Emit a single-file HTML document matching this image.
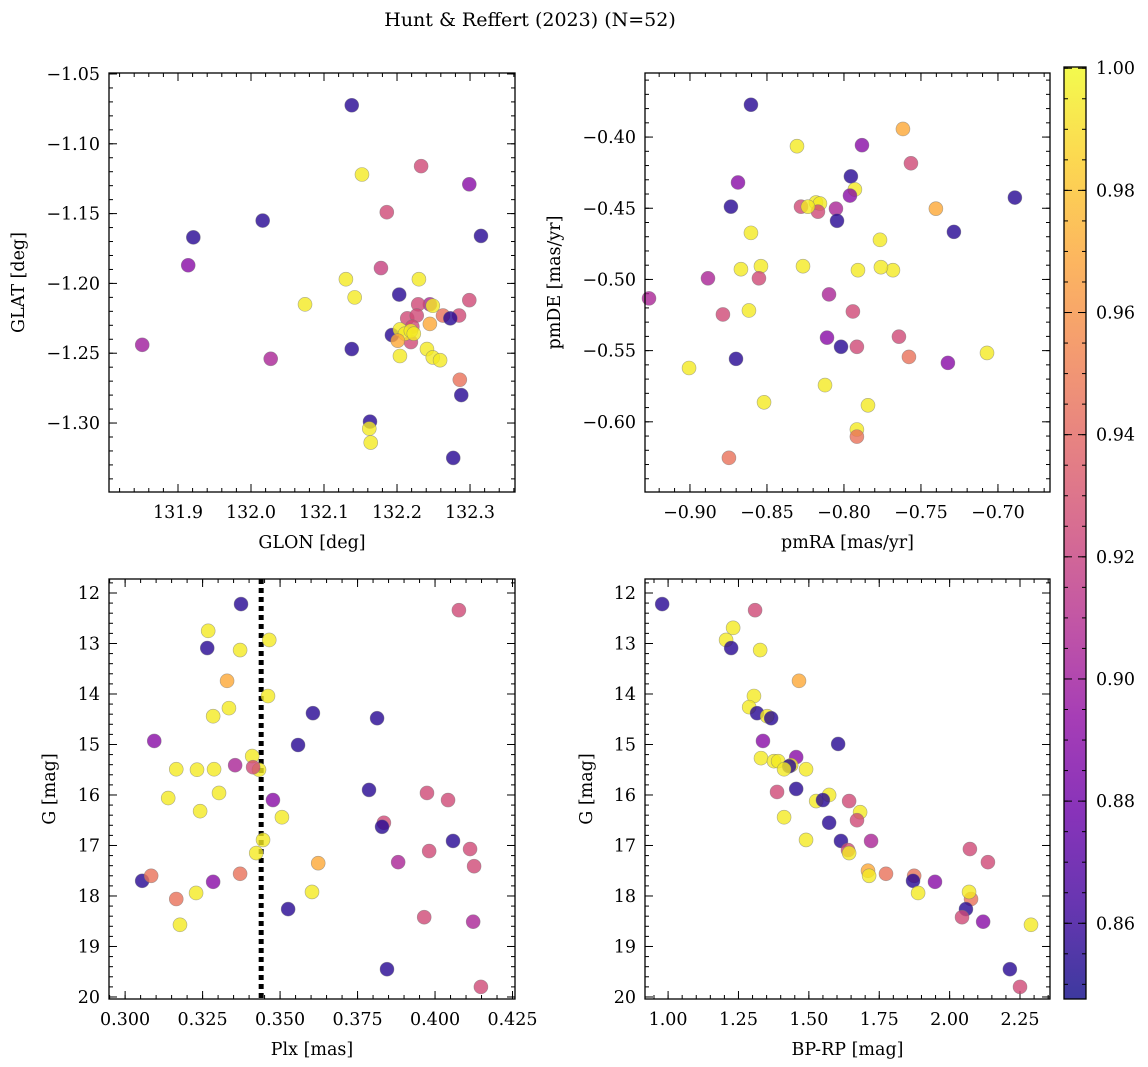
<!DOCTYPE html>
<html><head><meta charset="utf-8">
<style>
html,body{margin:0;padding:0;background:#fff;}
svg{display:block;font-family:"DejaVu Serif","Liberation Serif",serif;}
</style></head>
<body>
<svg id="fig" width="1148" height="1067" viewBox="0 0 1148 1067" xmlns="http://www.w3.org/2000/svg">
<defs>
<linearGradient id="plasma" x1="0" y1="1" x2="0" y2="0">
<stop offset="0" stop-color="#0d0887" stop-opacity="0.8"/><stop offset="0.1" stop-color="#41049d" stop-opacity="0.8"/>
<stop offset="0.2" stop-color="#6a00a8" stop-opacity="0.8"/><stop offset="0.3" stop-color="#8f0da4" stop-opacity="0.8"/>
<stop offset="0.4" stop-color="#b12a90" stop-opacity="0.8"/><stop offset="0.5" stop-color="#cc4778" stop-opacity="0.8"/>
<stop offset="0.6" stop-color="#e16462" stop-opacity="0.8"/><stop offset="0.7" stop-color="#f2844b" stop-opacity="0.8"/>
<stop offset="0.8" stop-color="#fca636" stop-opacity="0.8"/><stop offset="0.9" stop-color="#fcce25" stop-opacity="0.8"/>
<stop offset="1" stop-color="#f0f921" stop-opacity="0.8"/>
</linearGradient>
</defs>
<text x="530" y="26" font-size="19" text-anchor="middle">Hunt &amp; Reffert (2023) (N=52)</text>
</svg>
<script>
const p1x=[132.138,131.921,131.914,131.851,132.016,132.027,132.074,132.152,132.233,132.299,132.315,132.186,132.178,132.130,132.142,132.138,132.203,132.230,132.245,132.299,132.193,132.214,132.229,132.227,132.221,132.219,132.286,132.288,132.277,132.163,132.162,132.164,132.241,132.249,132.259,132.204,132.285,132.263,132.273,132.245,132.204,132.211,132.219,132.223,132.201,132.249];
const p1y=[-1.0724,-1.167,-1.187,-1.244,-1.155,-1.254,-1.215,-1.122,-1.116,-1.129,-1.166,-1.149,-1.189,-1.197,-1.210,-1.247,-1.208,-1.197,-1.215,-1.212,-1.237,-1.225,-1.215,-1.223,-1.231,-1.242,-1.269,-1.280,-1.325,-1.299,-1.304,-1.314,-1.247,-1.253,-1.255,-1.252,-1.223,-1.223,-1.225,-1.229,-1.233,-1.236,-1.234,-1.236,-1.241,-1.216];
const p1c=[0.855,0.855,0.89,0.9,0.855,0.905,0.995,0.995,0.925,0.89,0.855,0.925,0.92,0.995,0.995,0.855,0.855,0.995,0.905,0.925,0.855,0.925,0.925,0.925,0.925,0.925,0.945,0.855,0.855,0.855,0.995,0.995,0.995,0.995,0.995,0.995,0.925,0.945,0.855,0.97,0.995,0.995,0.995,0.995,0.97,0.995];

const p2x=[-0.8604,-0.8305,-0.7883,-0.7617,-0.7565,-0.7955,-0.7929,-0.7961,-0.6890,-0.8688,-0.8734,-0.8279,-0.8182,-0.8156,-0.8169,-0.8234,-0.8052,-0.8045,-0.7403,-0.7286,-0.8604,-0.7766,-0.8669,-0.8539,-0.8266,-0.7909,-0.7682,-0.7760,-0.9266,-0.8883,-0.8552,-0.8097,-0.8786,-0.8617,-0.7942,-0.7643,-0.7578,-0.7071,-0.7325,-0.8701,-0.8110,-0.8019,-0.7916,-0.9006,-0.8123,-0.8519,-0.7844,-0.7916,-0.7916,-0.8747];
const p2y=[-0.3773,-0.4064,-0.4057,-0.3943,-0.4184,-0.4276,-0.4368,-0.4411,-0.4425,-0.4319,-0.4489,-0.4489,-0.4460,-0.4467,-0.4524,-0.4489,-0.4503,-0.4588,-0.4503,-0.4666,-0.4673,-0.4722,-0.4928,-0.4907,-0.4907,-0.4935,-0.4935,-0.4914,-0.5133,-0.4992,-0.4992,-0.5105,-0.5246,-0.5218,-0.5225,-0.5402,-0.5544,-0.5516,-0.5586,-0.5558,-0.5409,-0.5473,-0.5473,-0.5622,-0.5742,-0.5863,-0.5884,-0.6054,-0.6104,-0.6253];
const p2c=[0.855,0.995,0.89,0.97,0.925,0.855,0.995,0.89,0.855,0.89,0.855,0.925,0.995,0.995,0.925,0.995,0.905,0.855,0.97,0.855,0.995,0.995,0.995,0.995,0.995,0.995,0.995,0.995,0.905,0.905,0.925,0.905,0.925,0.995,0.925,0.925,0.945,0.995,0.89,0.855,0.89,0.855,0.925,0.995,0.995,0.995,0.995,0.995,0.945,0.945];

const p3x=[0.3374,0.4077,0.3268,0.3465,0.3265,0.3371,0.3329,0.3461,0.3335,0.3284,0.3606,0.3813,0.3558,0.3094,0.3165,0.3232,0.3287,0.3355,0.3410,0.3432,0.3413,0.3477,0.3787,0.3974,0.4042,0.3303,0.3139,0.3242,0.3506,0.3835,0.3829,0.4058,0.3445,0.3423,0.3981,0.4113,0.3623,0.4126,0.3881,0.3055,0.3084,0.3371,0.3165,0.3229,0.3284,0.3603,0.3526,0.3177,0.4123,0.3965,0.3845,0.4148];
const p3y=[12.22,12.34,12.75,12.93,13.09,13.13,13.74,14.04,14.28,14.44,14.38,14.48,15.01,14.93,15.49,15.50,15.49,15.41,15.23,15.50,15.45,16.10,15.90,15.96,16.10,15.96,16.06,16.32,16.44,16.55,16.63,16.91,16.89,17.15,17.11,17.07,17.35,17.41,17.33,17.70,17.60,17.56,18.06,17.94,17.72,17.92,18.26,18.57,18.51,18.42,19.45,19.80];
const p3c=[0.855,0.925,0.995,0.995,0.855,0.995,0.97,0.995,0.995,0.995,0.855,0.855,0.855,0.89,0.995,0.995,0.995,0.905,0.995,0.995,0.925,0.89,0.855,0.925,0.925,0.995,0.995,0.995,0.995,0.925,0.855,0.855,0.995,0.995,0.925,0.925,0.97,0.925,0.905,0.855,0.945,0.945,0.945,0.995,0.89,0.995,0.855,0.995,0.905,0.925,0.855,0.925];

const p4x=[0.979,1.231,1.309,1.206,1.224,1.327,1.465,1.305,1.288,1.316,1.352,1.366,1.604,1.337,1.455,1.330,1.376,1.391,1.437,1.430,1.490,1.412,1.387,1.455,1.572,1.526,1.550,1.643,1.682,1.412,1.490,1.671,1.572,1.614,1.721,1.639,1.643,1.710,1.714,1.774,1.874,1.870,2.072,2.136,1.948,2.076,1.888,2.069,2.058,2.044,2.119,2.289,2.214,2.250];
const p4y=[12.22,12.69,12.34,12.93,13.09,13.13,13.74,14.04,14.26,14.38,14.44,14.48,14.99,14.93,15.25,15.27,15.33,15.33,15.41,15.43,15.49,15.49,15.94,15.88,16.00,16.12,16.10,16.12,16.34,16.44,16.89,16.50,16.55,16.91,16.91,17.09,17.15,17.50,17.60,17.56,17.60,17.70,17.07,17.33,17.72,18.06,17.94,17.92,18.26,18.42,18.51,18.57,19.45,19.80];
const p4c=[0.855,0.995,0.925,0.995,0.855,0.995,0.97,0.995,0.995,0.855,0.995,0.855,0.855,0.89,0.89,0.995,0.995,0.995,0.995,0.855,0.995,0.995,0.925,0.855,0.995,0.995,0.855,0.925,0.995,0.995,0.995,0.925,0.855,0.855,0.905,0.925,0.995,0.97,0.995,0.945,0.945,0.855,0.925,0.925,0.89,0.945,0.995,0.995,0.855,0.925,0.89,0.995,0.855,0.925];

const plxLine=[0.3439];
const cbTicks=[0.86,0.88,0.90,0.92,0.94,0.96,0.98,1.00];
const CMIN=0.8476, CMAX=1.0002;

const NS="http://www.w3.org/2000/svg";
const svg=document.getElementById('fig');
const FS=17.5;
function mk(tag,attrs,parent){const e=document.createElementNS(NS,tag);for(const k in attrs)e.setAttribute(k,attrs[k]);(parent||svg).appendChild(e);return e;}
const stops=[[13,8,135],[65,4,157],[106,0,168],[143,13,164],[177,42,144],[204,71,120],[225,100,98],[242,132,75],[252,166,54],[252,206,37],[240,249,33]];
function plasma(v){let t=(v-CMIN)/(CMAX-CMIN);t=Math.max(0,Math.min(1,t))*10;const i=Math.min(9,Math.floor(t)),f=t-i;const a=stops[i],b=stops[i+1];return 'rgb('+a.map((c,j)=>Math.round(c+(b[j]-c)*f)).join(',')+')';}
function fmt(v,d){const s=Math.abs(v).toFixed(d);return (v<-1e-9?'\u2212':'')+s;}

function panel(o){
  const g=mk('g',{});
  
  
  const L=o.L,R=o.R,T=o.T,B=o.B;
  const sx=v=>L+(v-o.x0)/(o.x1-o.x0)*(R-L);
  const sy=o.inv?(v=>T+(v-o.y0)/(o.y1-o.y0)*(B-T)):(v=>B-(v-o.y0)/(o.y1-o.y0)*(B-T));
  const ticks=(a,b,step)=>{const r=[];for(let k=Math.ceil(a/step-1e-6);k*step<=b+1e-9;k++)r.push(k*step);return r;};
  const tg=mk('g',{stroke:'#000','stroke-width':1},g);
  
  
  const xa=Math.min(o.x0,o.x1),xb=Math.max(o.x0,o.x1),ya=Math.min(o.y0,o.y1),yb=Math.max(o.y0,o.y1);
  ticks(xa,xb,o.xmin).forEach(v=>{const x=sx(v);mk('line',{x1:x,x2:x,y1:B,y2:B-4},tg);mk('line',{x1:x,x2:x,y1:T,y2:T+4},tg);});
  ticks(ya,yb,o.ymin).forEach(v=>{const y=sy(v);mk('line',{x1:L,x2:L+4,y1:y,y2:y},tg);mk('line',{x1:R,x2:R-4,y1:y,y2:y},tg);});
  ticks(xa,xb,o.xmaj).forEach(v=>{const x=sx(v);mk('line',{x1:x,x2:x,y1:B,y2:B-8},tg);mk('line',{x1:x,x2:x,y1:T,y2:T+8},tg);
    const t=mk('text',{x:x,y:B+26,'font-size':FS,'text-anchor':'middle',stroke:'none',fill:'#000'},g);t.textContent=fmt(v,o.xd);
    
    });
  ticks(ya,yb,o.ymaj).forEach(v=>{const y=sy(v);mk('line',{x1:L,x2:L+8,y1:y,y2:y},tg);mk('line',{x1:R,x2:R-8,y1:y,y2:y},tg);
    const t=mk('text',{x:L-9,y:y+6,'font-size':FS,'text-anchor':'end',fill:'#000'},g);t.textContent=fmt(v,o.yd);
    
    });
  if(o.vline){o.vline.forEach(v=>{const l=mk('line',{x1:sx(v),x2:sx(v),y1:T,y2:B,stroke:'#000','stroke-width':5,'stroke-dasharray':'5,4'},g);
    
    });}
  const pg=mk('g',{},g);
  
  
  for(let i=0;i<o.xs.length;i++){
    const c=mk('circle',{cx:sx(o.xs[i]),cy:sy(o.ys[i]),r:7,fill:plasma(o.cs[i]),'fill-opacity':0.8,stroke:'#777','stroke-opacity':0.6,'stroke-width':0.6},pg);
    
    
  }
  const fr=mk('rect',{x:L,y:T,width:R-L,height:B-T,fill:'none',stroke:'#000','stroke-width':1.3},g);
  
  
  const xl=mk('text',{x:(L+R)/2,y:B+56,'font-size':FS,'text-anchor':'middle'},g);xl.textContent=o.xlabel;
  
  
  const yx=o.ylx, yy=(T+B)/2;
  const yl=mk('text',{x:yx,y:yy,'font-size':FS,'text-anchor':'middle',transform:'rotate(-90 '+yx+' '+yy+')'},g);yl.textContent=o.ylabel;
  
  
}

panel({name:'glon-glat-panel',L:109,R:515,T:73,B:492,x0:131.8055,x1:132.3616,y0:-1.3494,y1:-1.0493,xmaj:0.1,xmin:0.02,ymaj:0.05,ymin:0.01,xd:1,yd:2,xs:p1x,ys:p1y,cs:p1c,xlabel:'GLON [deg]',ylabel:'GLAT [deg]',ylx:24});
panel({name:'pm-panel',L:645,R:1050,T:73,B:492,x0:-0.9292,x1:-0.6662,y0:-0.6493,y1:-0.355,xmaj:0.05,xmin:0.01,ymaj:0.05,ymin:0.01,xd:2,yd:2,xs:p2x,ys:p2y,cs:p2c,xlabel:'pmRA [mas/yr]',ylabel:'pmDE [mas/yr]',ylx:560});
panel({name:'plx-g-panel',L:109,R:515,T:579,B:999,x0:0.2948,x1:0.4258,y0:11.723,y1:20.04,inv:true,xmaj:0.025,xmin:0.005,ymaj:1,ymin:0.2,xd:3,yd:0,xs:p3x,ys:p3y,cs:p3c,xlabel:'Plx [mas]',ylabel:'G [mag]',ylx:55,vline:plxLine});
panel({name:'cmd-panel',L:645,R:1050,T:579,B:999,x0:0.918,x1:2.3565,y0:11.723,y1:20.04,inv:true,xmaj:0.25,xmin:0.05,ymaj:1,ymin:0.2,xd:2,yd:0,xs:p4x,ys:p4y,cs:p4c,xlabel:'BP-RP [mag]',ylabel:'G [mag]',ylx:592});

const cb=mk('g',{});


const CT=67,CB=999,CL=1064,CR=1086;
mk('rect',{x:CL,y:CT,width:CR-CL,height:CB-CT,fill:'url(#plasma)'},cb);
mk('rect',{x:CL,y:CT,width:CR-CL,height:CB-CT,fill:'none',stroke:'#000','stroke-width':1.3},cb);
const cy=v=>CB-(v-CMIN)/(CMAX-CMIN)*(CB-CT);
for(let k=Math.ceil(CMIN/0.005);k*0.005<=CMAX;k++){const y=cy(k*0.005);mk('line',{x1:CR,x2:CR-4,y1:y,y2:y,stroke:'#000'},cb);mk('line',{x1:CL,x2:CL+4,y1:y,y2:y,stroke:'#000'},cb);}
cbTicks.forEach(v=>{const y=cy(v);mk('line',{x1:CR,x2:CR-8,y1:y,y2:y,stroke:'#000'},cb);mk('line',{x1:CL,x2:CL+8,y1:y,y2:y,stroke:'#000'},cb);
  const t=mk('text',{x:CR+10,y:y+6,'font-size':FS},cb);t.textContent=v.toFixed(2);
  
  });
</script>
</body></html>
